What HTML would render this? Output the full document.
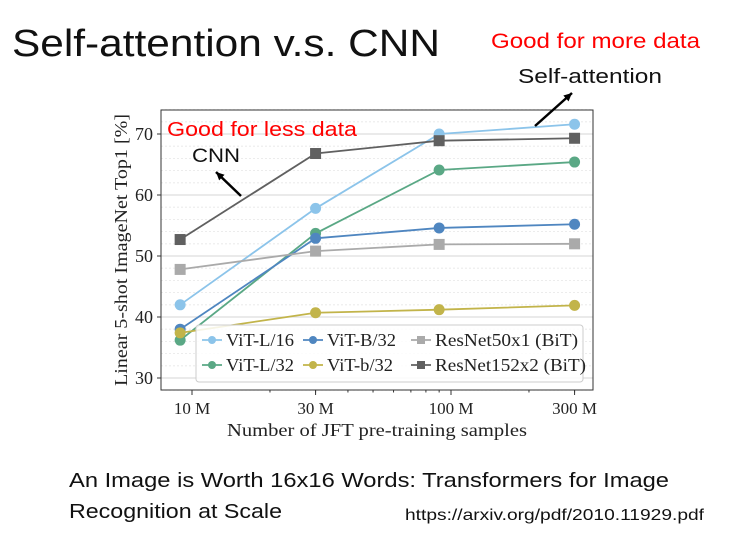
<!DOCTYPE html>
<html><head><meta charset="utf-8"><style>
html,body{margin:0;padding:0;background:#fff;width:729px;height:535px;overflow:hidden}
svg{display:block}
</style></head><body>
<svg id="s" width="729" height="535" xmlns="http://www.w3.org/2000/svg">
<text x="12" y="56" font-family="Liberation Sans, sans-serif" font-size="38" fill="#111" textLength="428" lengthAdjust="spacingAndGlyphs">Self-attention v.s. CNN</text>
<text x="491" y="48" font-family="Liberation Sans, sans-serif" font-size="21" fill="#f00" textLength="209" lengthAdjust="spacingAndGlyphs">Good for more data</text>
<text x="518" y="83" font-family="Liberation Sans, sans-serif" font-size="20" fill="#111" textLength="144" lengthAdjust="spacingAndGlyphs">Self-attention</text>
<g id="plot"></g>
<text x="69" y="487" font-family="Liberation Sans, sans-serif" font-size="20" fill="#111" textLength="600" lengthAdjust="spacingAndGlyphs">An Image is Worth 16x16 Words: Transformers for Image</text>
<text x="69" y="518" font-family="Liberation Sans, sans-serif" font-size="20" fill="#111" textLength="213" lengthAdjust="spacingAndGlyphs">Recognition at Scale</text>
<text x="405" y="520" font-family="Liberation Sans, sans-serif" font-size="16" fill="#111" textLength="299" lengthAdjust="spacingAndGlyphs">https://arxiv.org/pdf/2010.11929.pdf</text>
</svg>
<script>
const xSamples=[9,30,90,300];
const xTicks=[10,30,100,300];
const xTickLabels=["10 M","30 M","100 M","300 M"];
const yTicks=[30,40,50,60,70];
const vitL16=[42,57.8,70,71.6];
const vitL32=[36.2,53.7,64.1,65.4];
const vitB32=[38,52.9,54.6,55.2];
const vitb32=[37.4,40.7,41.2,41.9];
const resnet50=[47.8,50.8,51.9,52];
const resnet152=[52.7,66.8,68.9,69.3];
const seriesNames=["ViT-L/16","ViT-L/32","ViT-B/32","ViT-b/32","ResNet50x1 (BiT)","ResNet152x2 (BiT)"];

const NS="http://www.w3.org/2000/svg";
const g=document.getElementById('plot');
const L=161,R=593,T=110,B=390;
function xs(v){return 451+259*(Math.log10(v)-2);}
function ys(v){return 378-(v-30)*6.1;}
function el(t,a,p){const e=document.createElementNS(NS,t);for(const k in a)e.setAttribute(k,a[k]);(p||g).appendChild(e);return e;}
for(let v=28;v<=74;v+=2){
  if(v%10===0){const l=el('line',{x1:L,x2:R,y1:ys(v),y2:ys(v),stroke:'#ddd','stroke-width':1.2});
  
  }
  else{const l=el('line',{x1:L,x2:R,y1:ys(v),y2:ys(v),stroke:'#e6e6e6','stroke-width':0.8,'stroke-dasharray':'2,2'});
  
  }
}
const fr=el('rect',{x:L,y:T,width:R-L,height:B-T,fill:'none',stroke:'#333','stroke-width':1});


yTicks.forEach(v=>{
  el('line',{x1:L-4,x2:L,y1:ys(v),y2:ys(v),stroke:'#333'});
  const t=el('text',{x:L-8,y:ys(v)+6,'text-anchor':'end','font-family':'Liberation Serif, serif','font-size':18,fill:'#222'});
  t.textContent=v;
  
  
});
for(let d=7;d<=8;d++)for(let m=2;m<=9;m++){const x=xs(Math.pow(10,d-6)*m);if(x>L&&x<R)el('line',{x1:x,x2:x,y1:B,y2:B+2.5,stroke:'#333'});}
xTicks.forEach((v,i)=>{
  el('line',{x1:xs(v),x2:xs(v),y1:B,y2:B+5,stroke:'#333'});
  const t=el('text',{x:xs(v),y:B+24,'text-anchor':'middle','font-family':'Liberation Serif, serif','font-size':17,fill:'#222'});
  t.textContent=xTickLabels[i];
  
  
});
const xt=el('text',{x:377,y:436,'text-anchor':'middle','font-family':'Liberation Serif, serif','font-size':18,fill:'#222',textLength:300,lengthAdjust:'spacingAndGlyphs'});
xt.textContent="Number of JFT pre-training samples";


const yt=el('text',{transform:'translate(127,250) rotate(-90)','text-anchor':'middle','font-family':'Liberation Serif, serif','font-size':18,fill:'#222',textLength:272,lengthAdjust:'spacingAndGlyphs'});
yt.textContent="Linear 5-shot ImageNet Top1 [%]";



const series=[[vitL16,'#8cc4ea','c'],[vitL32,'#5aa885','c'],[vitB32,'#4f86c0','c'],[vitb32,'#c2b44a','c'],[resnet50,'#aaaaaa','s'],[resnet152,'#606060','s']];
function marker(x,y,col,shape,p){
  if(shape==='c')return el('circle',{cx:x,cy:y,r:5.5,fill:col},p);
  return el('rect',{x:x-5.5,y:y-5.5,width:11,height:11,fill:col},p);
}
series.forEach((s,i)=>{
  const sg=el('g',{});
  
  
  el('polyline',{points:s[0].map((v,j)=>xs(xSamples[j])+','+ys(v)).join(' '),fill:'none',stroke:s[1],'stroke-width':1.8},sg);
  s[0].forEach((v,j)=>{const m=marker(xs(xSamples[j]),ys(v),s[1],s[2],sg);
    
    });
});
const lg=el('g',{});


el('rect',{x:196,y:325,width:387,height:57,rx:3,fill:'rgba(255,255,255,0.85)',stroke:'#ccc'},lg);
const pos=[[202,340],[202,365],[303,340],[303,365],[411,340],[411,365]];
const lw=[68,68,69,66,143,151];
series.forEach((s,i)=>{
  const [x,y]=pos[i];
  const e=el('g',{},lg);
  
  
  el('line',{x1:x,x2:x+20,y1:y,y2:y,stroke:s[1],'stroke-width':1.8},e);
  if(s[2]==='c')el('circle',{cx:x+10,cy:y,r:4,fill:s[1]},e);else el('rect',{x:x+6,y:y-4,width:8,height:8,fill:s[1]},e);
  const t=el('text',{x:x+24,y:y+6,'font-family':'Liberation Serif, serif','font-size':17.5,fill:'#222',textLength:lw[i],lengthAdjust:'spacingAndGlyphs'},e);
  t.textContent=seriesNames[i];
});
const a1=el('text',{x:167,y:136,'font-family':'Liberation Sans, sans-serif','font-size':20,fill:'#f00',textLength:190,lengthAdjust:'spacingAndGlyphs'});
a1.textContent="Good for less data";


const a2=el('text',{x:192,y:162,'font-family':'Liberation Sans, sans-serif','font-size':19,fill:'#111',textLength:48,lengthAdjust:'spacingAndGlyphs'});
a2.textContent="CNN";


function arrow(x1,y1,x2,y2,name){
  const ag=el('g',{},document.getElementById('s'));
  
  
  el('line',{x1:x1,y1:y1,x2:x2,y2:y2,stroke:'#000','stroke-width':2.5},ag);
  const ang=Math.atan2(y2-y1,x2-x1),h=9;
  const p1=[x2-h*Math.cos(ang-0.45),y2-h*Math.sin(ang-0.45)],p2=[x2-h*Math.cos(ang+0.45),y2-h*Math.sin(ang+0.45)];
  el('polygon',{points:`${x2},${y2} ${p1} ${p2}`,fill:'#000'},ag);
}
arrow(241,196,216,172,'cnn-arrow');
arrow(535,126,572,93,'self-attention-arrow');
</script>
</body></html>
